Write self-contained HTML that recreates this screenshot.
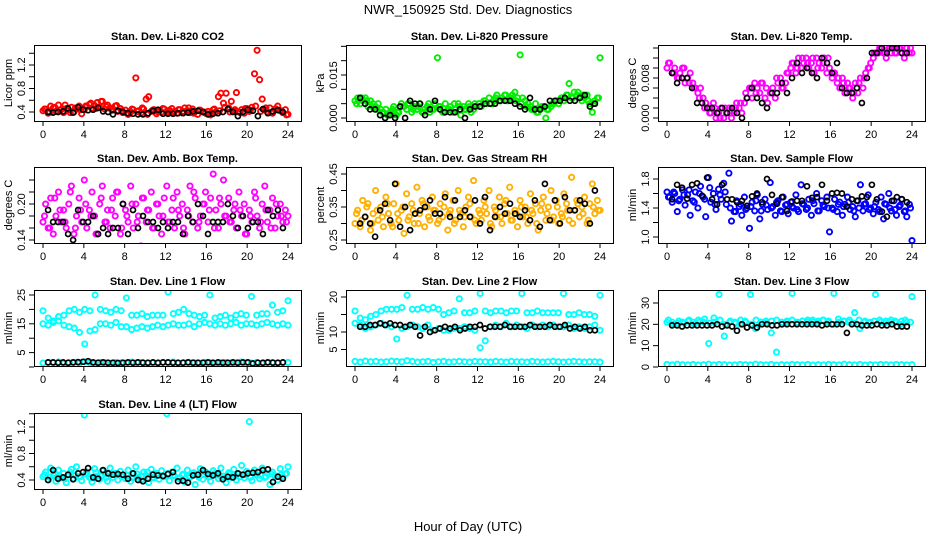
<!DOCTYPE html>
<html><head><meta charset="utf-8"><style>
html,body{margin:0;padding:0;background:#fff;}
svg{display:block;font-family:"Liberation Sans",Arial,sans-serif;}
</style></head><body>
<svg id="chart" width="936" height="540" viewBox="0 0 936 540">
<rect width="936" height="540" fill="#fff"/>
<text x="468" y="14" font-size="13" text-anchor="middle">NWR_150925  Std. Dev. Diagnostics</text>
<text x="468" y="531" font-size="13" text-anchor="middle">Hour of Day (UTC)</text>
</svg>
<script>
const xTicks = [0,4,8,12,16,20,24];
const co2 = [0.42,0.45,0.38,0.50,0.47,0.41,0.52,0.44,0.39,0.46,0.43,0.48,0.40,0.45,0.50,0.37,0.44,0.49,0.53,0.46,0.51,0.56,0.48,0.58,0.45,0.52,0.47,0.43,0.50,0.41,0.46,0.39,0.43,0.36,0.40,0.44,0.98,0.42,0.38,0.45,0.62,0.66,0.41,0.44,0.37,0.42,0.40,0.45,0.39,0.43,0.46,0.41,0.38,0.44,0.40,0.47,0.42,0.39,0.45,0.41,0.36,0.43,0.40,0.38,0.41,0.35,0.44,0.40,0.66,0.72,0.55,0.72,0.47,0.58,0.42,0.73,0.40,0.44,0.38,0.46,0.41,0.48,1.05,1.45,0.95,0.62,0.44,0.40,0.47,0.38,0.45,0.50,0.42,0.39,0.44,0.36];
const co2b = [0.45,0.40,0.48,0.43,0.52,0.39,0.47,0.44,0.50,0.55,0.46,0.58,0.49,0.44,0.51,0.42,0.38,0.45,0.41,0.47,0.36,0.43,0.40,0.46,0.42,0.39,0.44,0.41,0.47,0.38,0.43,0.40,0.37,0.45,0.42,0.48,0.40,0.44,0.39,0.46,0.43,0.50,0.41,0.47,0.39,0.45,0.42,0.35];
const co2k = [0.40,0.39,0.40,0.41,0.46,0.39,0.48,0.44,0.43,0.44,0.47,0.41,0.40,0.36,0.42,0.40,0.38,0.37,0.36,0.36,0.38,0.42,0.44,0.37,0.37,0.37,0.38,0.38,0.39,0.41,0.42,0.40,0.36,0.37,0.38,0.40,0.45,0.40,0.33,0.40,0.44,0.42,0.33,0.45,0.38,0.41,0.43,0.40];
const pres = [.006,.007,.005,.006,.007,.004,.006,.005,.004,.005,.003,.002,.003,.001,.002,.004,.001,.002,.005,.004,.003,.005,.002,.004,.003,.005,.002,.003,.004,.002,.003,.005,.021,.004,.002,.005,.003,.004,.002,.003,.005,.001,.004,.003,.005,.002,.003,.004,.005,.004,.006,.005,.007,.005,.006,.008,.006,.007,.008,.006,.007,.008,.009,.007,.022,.007,.006,.005,.004,.003,.005,.002,.003,.004,.000,.003,.004,.005,.006,.005,.007,.006,.008,.012,.007,.009,.008,.007,.006,.007,.008,.005,.002,.006,.007,.021];
const presb = [.005,.007,.006,.004,.003,.002,.001,.003,.002,.004,.005,.003,.004,.002,.005,.003,.004,.002,.003,.005,.004,.003,.004,.005,.004,.006,.005,.007,.006,.008,.007,.006,.005,.004,.003,.002,.004,.003,.005,.006,.007,.008,.007,.009,.008,.006,.005,.007];
const presk = [.007,.005,.003,.003,.001,.000,.001,.000,.004,.000,.006,.005,.005,.001,.003,.006,.003,.002,.002,.002,.003,.000,.003,.004,.004,.005,.005,.005,.006,.006,.006,.005,.004,.003,.007,.003,.003,.004,.006,.006,.006,.007,.006,.006,.007,.008,.004,.005];
const temp = [.010,.011,.009,.010,.008,.009,.010,.007,.008,.009,.007,.006,.005,.006,.004,.003,.002,.001,.003,.000,.001,.002,.000,.001,.002,.000,.001,.003,.002,.001,.003,.004,.006,.004,.007,.006,.005,.007,.004,.003,.005,.006,.004,.007,.008,.006,.007,.009,.010,.011,.009,.012,.010,.011,.012,.010,.011,.009,.012,.011,.010,.012,.009,.010,.008,.009,.007,.006,.008,.005,.007,.006,.004,.007,.005,.008,.006,.009,.010,.011,.012,.013,.013,.014,.013,.012,.014,.013,.014,.013,.014,.013,.012,.014,.013,.013];
const tempb = [.011,.009,.008,.010,.007,.006,.004,.002,.001,.002,.000,.002,.001,.002,.003,.005,.006,.005,.007,.006,.005,.008,.006,.009,.011,.010,.012,.011,.012,.010,.011,.012,.009,.008,.007,.006,.005,.007,.008,.010,.013,.014,.013,.014,.013,.014,.013,.014];
const tempk = [.009,.007,.008,.008,.006,.003,.003,.002,.002,.001,.002,.001,.002,.001,.000,.004,.006,.004,.003,.002,.005,.005,.007,.005,.008,.011,.009,.010,.009,.008,.012,.011,.009,.011,.006,.005,.005,.006,.003,.008,.013,.013,.014,.013,.014,.014,.013,.013];
const amb = [.17,.20,.16,.21,.15,.18,.22,.17,.19,.16,.20,.23,.15,.18,.21,.17,.24,.16,.19,.22,.18,.15,.20,.23,.17,.19,.16,.21,.18,.22,.15,.20,.19,.17,.23,.16,.20,.18,.13,.21,.17,.19,.22,.16,.20,.18,.15,.21,.23,.17,.19,.16,.22,.18,.20,.15,.19,.23,.17,.21,.16,.18,.20,.22,.17,.21,.25,.19,.16,.20,.24,.18,.21,.17,.19,.16,.22,.18,.20,.15,.19,.17,.22,.18,.16,.20,.23,.17,.19,.21,.16,.18,.20,.17,.19,.18];
const ambb = [.18,.16,.21,.19,.17,.22,.16,.19,.20,.18,.15,.21,.17,.19,.22,.16,.18,.20,.17,.21,.19,.16,.20,.18,.17,.21,.19,.16,.18,.22,.17,.20,.19,.16,.21,.18,.17,.20,.19,.15,.18,.21,.17,.19,.16,.20,.18,.17];
const ambk = [.19,.17,.17,.17,.15,.14,.19,.17,.17,.18,.15,.16,.15,.16,.16,.20,.15,.19,.16,.18,.17,.17,.16,.17,.16,.17,.17,.15,.18,.17,.20,.18,.15,.17,.17,.17,.20,.18,.16,.18,.16,.17,.17,.15,.19,.18,.19,.16];
const rh = [.30,.34,.29,.37,.32,.36,.28,.33,.40,.31,.35,.29,.38,.33,.30,.36,.42,.31,.34,.27,.39,.32,.36,.30,.41,.33,.37,.29,.35,.31,.38,.34,.30,.36,.32,.39,.28,.34,.37,.31,.40,.33,.29,.35,.38,.32,.43,.30,.34,.31,.37,.33,.40,.29,.35,.32,.38,.30,.36,.33,.41,.31,.34,.29,.37,.32,.35,.30,.39,.33,.36,.28,.34,.38,.31,.35,.40,.32,.37,.30,.33,.39,.36,.31,.44,.34,.37,.32,.35,.38,.30,.36,.42,.33,.37,.34];
const rhb = [.33,.31,.35,.30,.34,.32,.36,.29,.33,.35,.31,.34,.30,.36,.32,.34,.31,.35,.33,.30,.34,.32,.36,.31,.33,.35,.30,.34,.32,.37,.31,.33,.35,.32,.34,.30,.36,.33,.31,.35,.32,.34,.30,.36,.33,.31,.35,.34];
const rhk = [.30,.32,.30,.26,.34,.36,.31,.42,.29,.35,.28,.33,.34,.35,.37,.33,.33,.38,.32,.37,.32,.34,.32,.37,.30,.38,.28,.32,.35,.33,.36,.33,.32,.34,.31,.37,.29,.42,.31,.37,.30,.38,.34,.34,.37,.36,.30,.40];
const sf = [1.62,1.55,1.48,1.60,1.35,1.52,1.65,1.44,1.58,1.30,1.50,1.62,1.40,1.70,1.55,1.28,1.82,1.48,1.60,1.38,1.66,1.52,1.74,1.45,1.88,1.22,1.35,1.50,1.42,1.30,1.55,1.40,1.12,1.48,1.36,1.58,1.25,1.45,1.52,1.38,1.75,1.42,1.30,1.50,1.36,1.55,1.44,1.32,1.48,1.40,1.58,1.35,1.72,1.45,1.38,1.52,1.30,1.46,1.60,1.36,1.50,1.42,1.55,1.07,1.40,1.52,1.35,1.48,1.30,1.45,1.55,1.38,1.42,1.28,1.50,1.72,1.36,1.46,1.58,1.40,1.32,1.48,1.38,1.55,1.25,1.45,1.60,1.36,1.50,1.30,1.42,1.52,1.35,1.28,1.45,0.95];
const sfb = [1.55,1.62,1.50,1.58,1.65,1.48,1.60,1.52,1.68,1.45,1.58,1.62,1.40,1.35,1.45,1.38,1.42,1.50,1.36,1.44,1.40,1.48,1.35,1.45,1.42,1.38,1.46,1.40,1.50,1.36,1.44,1.40,1.38,1.45,1.42,1.48,1.36,1.40,1.45,1.38,1.42,1.35,1.46,1.40,1.38,1.44,1.36,1.40];
const sfk = [1.52,1.72,1.68,1.53,1.72,1.74,1.57,1.82,1.52,1.45,1.72,1.52,1.52,1.48,1.50,1.43,1.56,1.60,1.48,1.80,1.58,1.46,1.55,1.36,1.49,1.50,1.50,1.70,1.54,1.55,1.72,1.50,1.60,1.61,1.60,1.42,1.52,1.50,1.56,1.55,1.72,1.52,1.35,1.28,1.50,1.55,1.52,1.48];
const l1a = [19.5,17,16,17.5,18,19.5,20,19,20,19.5,25,20,19.5,19,20,19.5,24,18,18,18.5,17.5,18,18,18,26,18.5,19,20,18.5,18,17.5,18,25,17,17.5,18,17,18,18.5,18,24.5,18,18.5,18.5,21.5,19,19.5,23];
const l1b = [15,14.5,15.5,16,14.5,14,13.5,12,8,12.5,13,15,15,14.5,15.5,14,14,13,13.5,14,13.5,14,14.5,14,14.5,15,14.5,14.5,15,14,15,15.5,15,14.5,15,14.5,15,15.5,14.5,15,15,14.5,15,15.5,15,14.5,15,14.5];
const l1c = [1.4,1.6,1.5,1.7,1.3,1.5,1.6,1.4,1.8,1.5,1.4,1.6,1.5,1.3,1.6,1.5,1.4,1.7,1.5,1.6,1.4,1.5,1.3,1.6,1.5,1.7,1.4,1.5,1.6,1.5,1.4,1.6,1.5,1.3,1.5,1.6,1.4,1.5,1.7,1.5,1.4,1.6,1.2,1.5,1.6,1.4,1.5,1.6];
const l1k = [1.6,1.6,1.5,1.6,1.5,1.6,1.7,1.8,2.0,1.6,1.5,1.6,1.5,1.5,1.4,1.5,1.6,1.5,1.6,1.5,1.5,1.6,1.5,1.6,1.6,1.5,1.5,1.5,1.6,1.5,1.5,1.5,1.6,1.5,1.6,1.5,1.5,1.6,1.5,1.6,1.6,1.2,1.5,1.5,1.6,1.5,1.5,1.6];
const l2a = [16,14,13.5,14.5,15,16,16.5,16.5,16.5,17,20.5,16.5,16.5,17,16.5,17,16.5,15,15.5,16,19.5,15.5,15.5,16,21,16,15.5,16,16,15.5,16,16,21,15.5,15.5,16,15.5,15.5,15.5,15.5,21,15,15,15.5,15,15,14.5,20.5];
const l2b = [12.5,12,11,11.5,12,12.5,12,11.5,8,11,11.5,12,11.5,11,12,10.5,11,10.5,10.5,11,11,11.5,11,10.5,5.5,7.5,11.5,12,11.5,12.5,11.5,12,11.5,11,12,11.5,12,11.5,12,11.5,11.5,12,11,11.5,11,11.5,12,10.5];
const l2c = [1.6,1.4,1.7,1.5,1.6,1.4,1.5,1.7,1.6,1.5,1.8,1.6,1.4,1.5,1.6,1.3,1.5,1.6,1.4,1.5,1.6,1.5,1.4,1.6,1.5,1.5,1.4,1.6,1.5,1.4,1.6,1.5,1.5,1.4,1.6,1.5,1.4,1.5,1.6,1.5,1.4,1.5,1.6,1.5,1.4,1.5,1.5,1.4];
const l2k = [11.5,11.5,12,12,12.5,12,12.5,12,12,11.5,12,11.5,9,11.5,10,10.5,11,11.5,11,11.5,10.5,11,11.5,11.5,12,11,11.5,11.5,11.5,12,11.5,11.5,11.5,11.5,12,11.5,11.5,11.5,12,11.5,11.5,12,11,11.5,11,11.5,10.5,10.5];
const l3a = [21,21,20.5,21,21.5,21,22,21,11,23,34,14.5,21,21,20,21.5,34,18,21,21.5,16,7,21,21.5,34.5,21,21.5,22,21,21.5,22,21.5,34.5,21,21.5,22,25.5,18,21.5,21,34,21,21.5,22,21,21.5,21,33];
const l3b = [22,20,21.5,20.5,22,20,21,22.5,20.5,21,22,20,21.5,20.5,22,21,20,22,21,20.5,21.5,22,20,21,22,20.5,21.5,21,22,20.5,22,21,20,22.5,21.5,21,20.5,22,21,20.5,21.5,22,20.5,21,21.5,20,22,21];
const l3c = [1.2,1.0,1.3,1.1,1.0,1.2,0.9,1.1,1.3,1.0,1.2,1.1,0.9,1.0,1.2,1.1,1.0,1.3,1.1,1.0,1.2,0.9,1.1,1.0,1.2,1.1,1.0,1.2,0.9,1.1,1.0,1.2,1.1,1.0,1.3,1.1,1.0,1.2,0.9,1.1,1.0,1.2,1.1,1.0,1.2,1.1,1.0,1.1];
const l3k = [19.5,19.5,19,19.5,19.5,19.5,19.5,19.5,19.5,20,19,19.5,19,17,20,18.5,19.5,18.5,20,20,19.5,19.5,20,20,20,20,20,20,20,20,19.5,20,20,20,20,16,20,20,19.5,19.5,19.5,20,19.5,19.5,20,19,19,19];
const l4 = [.45,.52,.40,.58,.47,.38,.55,.43,.50,.36,.48,.56,.42,.60,.45,.39,1.38,.52,.44,.37,.57,.46,.41,.54,.49,.38,.58,.44,.50,.40,.53,.46,.42,.55,.38,.49,.60,.44,.40,.52,.47,.36,.56,.43,.50,.41,.54,.45,1.40,.39,.52,.46,.58,.42,.48,.37,.55,.44,.50,.33,.47,.57,.41,.52,.45,.38,.54,.48,.42,.58,.46,.36,.51,.44,.56,.40,.49,.62,.43,.53,1.28,.39,.55,.47,.42,.58,.44,.50,.33,.52,.46,.40,.57,.45,.49,.60];
const l4b = [.48,.44,.50,.46,.42,.52,.47,.45,.49,.43,.51,.46,.44,.48,.50,.45,.47,.43,.49,.46,.52,.44,.48,.45,.50,.47,.43,.49,.46,.51,.44,.48,.45,.50,.47,.43,.49,.46,.45,.48,.44,.50,.47,.45,.49,.46,.48,.50];
const l4k = [.40,.55,.42,.44,.48,.41,.50,.52,.58,.44,.42,.55,.50,.48,.49,.48,.42,.50,.40,.38,.42,.48,.47,.46,.49,.52,.38,.39,.36,.47,.48,.55,.49,.47,.50,.41,.45,.44,.50,.48,.50,.51,.52,.55,.56,.37,.45,.42];

const yTicks1=[0.4,0.6,0.8,1.0,1.2,1.4], yLab1=["0.4","","0.8","","1.2",""];
const yTicks2=[0,0.005,0.010,0.015,0.020,0.025], yLab2=["0.000","","","0.015","",""];
const yTicks3=[0,0.002,0.004,0.006,0.008,0.010,0.012,0.014], yLab3=["0.000","","","","0.008","","",""];
const yTicks4=[0.14,0.16,0.18,0.20,0.22,0.24], yLab4=["0.14","","","0.20","",""];
const yTicks5=[0.25,0.30,0.35,0.40,0.45], yLab5=["0.25","","0.35","","0.45"];
const yTicks6=[1.0,1.2,1.4,1.6,1.8], yLab6=["1.0","","1.4","","1.8"];
const yTicks7=[0,5,10,15,20,25], yLab7=["","5","","15","","25"];
const yTicks8=[5,10,15,20], yLab8=["5","10","","20"];
const yTicks9=[0,10,20,30], yLab9=["0","10","20","30"];
const yTicks10=[0.4,0.6,0.8,1.0,1.2,1.4], yLab10=["0.4","","0.8","","1.2",""];

const NS="http://www.w3.org/2000/svg";
const svg=document.getElementById('chart');
function mk(tag,attrs,parent){const e=document.createElementNS(NS,tag);for(const k in attrs)e.setAttribute(k,attrs[k]);(parent||svg).appendChild(e);return e;}
const colL=[34,346,658], rowT=[45,167,290,413], W=267, H=76;

function panel(col,row,title,ylab,v1,p1,v2,p2,ticks,labs,series){
  const L=colL[col], T=rowT[row], B=T+H;
  const g=mk('g',{});
  
  
  const x=t=>L+9+t*245/24;
  const y=v=>p1+(v-v1)*(p2-p1)/(v2-v1);
  const cp=mk('clipPath',{id:'c'+col+row},g);mk('rect',{x:L,y:T,width:W,height:H},cp);
  const pts=mk('g',{'clip-path':'url(#c'+col+row+')'},g);
  
  
  series.forEach(s=>{
    const n=s.vals.length;
    s.vals.forEach((v,i)=>{
      const t=s.off+i*(24-2*s.off)/(n-1);
      const c=mk('circle',{cx:x(t).toFixed(1),cy:y(v).toFixed(1),r:s.r||2.5,fill:'none',stroke:s.color,'stroke-width':s.sw||1.7},pts);
      
      
    });
  });
  const box=mk('rect',{x:L+.5,y:T+.5,width:W,height:H,fill:'none',stroke:'#000','stroke-width':1},g);
  
  
  const tt=mk('text',{x:L+W/2,y:T-5,'font-size':11,'font-weight':'bold','text-anchor':'middle'},g);tt.textContent=title;
  
  
  xTicks.forEach(t=>{
    mk('line',{x1:x(t),x2:x(t),y1:B,y2:B+5,stroke:'#000'},g);
    const tx=mk('text',{x:x(t),y:B+17,'font-size':11,'text-anchor':'middle'},g);tx.textContent=t;
    
    
  });
  ticks.forEach((v,i)=>{
    const yy=y(v);
    mk('line',{x1:L-5,x2:L,y1:yy,y2:yy,stroke:'#000'},g);
    if(labs[i]){
      const ty=mk('text',{x:L-9,y:yy,'font-size':11,'text-anchor':'middle',transform:'rotate(-90 '+(L-9)+' '+yy+')'},g);ty.textContent=labs[i];
      
      
    }
  });
  const yl=mk('text',{x:L-22,y:T+H/2,'font-size':11,'text-anchor':'middle',transform:'rotate(-90 '+(L-22)+' '+(T+H/2)+')'},g);yl.textContent=ylab;
  
  
}
const K='#000';
const cs=(vals,color,off)=>({vals:vals,color:color,off:off,r:2.6,sw:1.9});
panel(0,0,'Stan. Dev. Li-820 CO2','Licor ppm',0.4,112,1.2,65,yTicks1,yLab1,[cs(co2,'#ff0000',0),cs(co2b,'#ff0000',0.15),{vals:co2k,color:K,off:0.5}]);
panel(1,0,'Stan. Dev. Li-820 Pressure','kPa',0,118,0.015,75,yTicks2,yLab2,[cs(pres,'#00ee00',0),cs(presb,'#00ee00',0.15),{vals:presk,color:K,off:0.5}]);
panel(2,0,'Stan. Dev. Li-820 Temp.','degrees C',0,118,0.008,78,yTicks3,yLab3,[cs(temp,'#ff00ff',0),cs(tempb,'#ff00ff',0.15),{vals:tempk,color:K,off:0.5}]);
panel(0,1,'Stan. Dev. Amb. Box Temp.','degrees C',0.14,240,0.20,204,yTicks4,yLab4,[cs(amb,'#ff00ff',0),cs(ambb,'#ff00ff',0.15),{vals:ambk,color:K,off:0.5}]);
panel(1,1,'Stan. Dev. Gas Stream RH','percent',0.25,240,0.45,174,yTicks5,yLab5,[cs(rh,'#ffb000',0),cs(rhb,'#ffb000',0.15),{vals:rhk,color:K,off:0.5}]);
panel(2,1,'Stan. Dev. Sample Flow','ml/min',1.0,237,1.8,179,yTicks6,yLab6,[cs(sf,'#0000ff',0),cs(sfb,'#0000ff',0.15),{vals:sfk,color:K,off:0.5}]);
panel(0,2,'Stan. Dev. Line 1 Flow','ml/min',0,367,25,295,yTicks7,yLab7,[cs(l1a,'#00ffff',0),cs(l1b,'#00ffff',0),cs(l1c,'#00ffff',0),{vals:l1k,color:K,off:0.5}]);
panel(1,2,'Stan. Dev. Line 2 Flow','ml/min',0,367,20,297,yTicks8,yLab8,[cs(l2a,'#00ffff',0),cs(l2b,'#00ffff',0),cs(l2c,'#00ffff',0),{vals:l2k,color:K,off:0.5}]);
panel(2,2,'Stan. Dev. Line 3 Flow','ml/min',0,367,30,303,yTicks9,yLab9,[cs(l3a,'#00ffff',0),cs(l3b,'#00ffff',0.15),cs(l3c,'#00ffff',0),{vals:l3k,color:K,off:0.5}]);
panel(0,3,'Stan. Dev. Line 4 (LT) Flow','ml/min',0.4,480,1.2,427,yTicks10,yLab10,[cs(l4,'#00ffff',0),cs(l4b,'#00ffff',0.15),{vals:l4k,color:K,off:0.5}]);
</script>
</body></html>
